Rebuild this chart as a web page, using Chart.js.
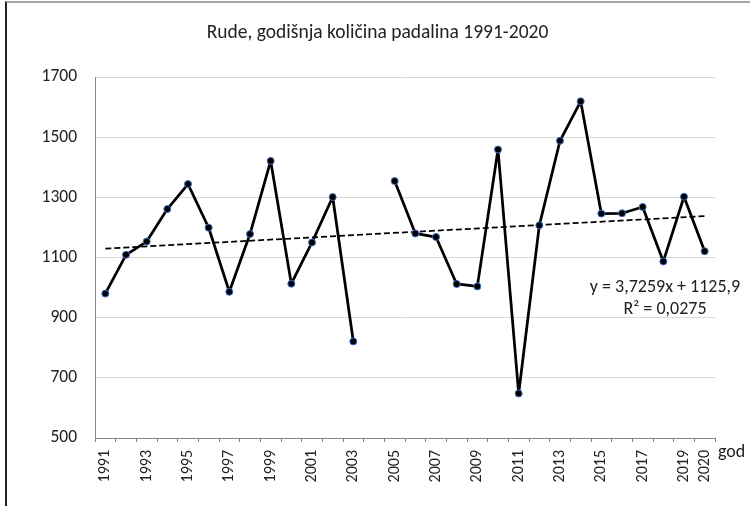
<!DOCTYPE html>
<html>
<head>
<meta charset="utf-8">
<script src="https://cdn.jsdelivr.net/npm/chart.js@4/dist/chart.umd.min.js"></script>
<style>
  html, body { margin: 0; padding: 0; background: #fff; }
  #wrap { position: relative; width: 750px; height: 506px; }
  #frame {
    position: absolute; left: 5px; top: 1px; width: 760px; height: 520px;
    border-left: 2px solid #222; border-top: 2px solid #a6a6a6;
    pointer-events: none;
  }
</style>
</head>
<body>
<div id="wrap">
  <canvas id="chart" width="750" height="506"></canvas>
  <div id="frame"></div>
</div>
<script>
// ---- data ----
const years = [
  '1991', '1992', '1993', '1994', '1995', '1996', '1997', '1998', '1999', '2000',
  '2001', '2002', '2003', '2004', '2005', '2006', '2007', '2008', '2009', '2010',
  '2011', '2012', '2013', '2014', '2015', '2016', '2017', '2018', '2019', '2020'
];
const rainfall = [
  980, 1109, 1153, 1261, 1344, 1199, 986, 1178, 1421, 1013,
  1150, 1301, 821, null, 1354, 1180, 1168, 1012, 1004, 1459,
  648, 1207, 1488, 1619, 1246, 1247, 1268, 1087, 1302, 1121
];
const shownYears = ['1991', '1993', '1995', '1997', '1999', '2001', '2003', '2005', '2007',
  '2009', '2011', '2013', '2015', '2017', '2019', '2020'];
// trend line ends (y = 3,7259x + 1125,9 at x = 1 and x = 30)
const trendStart = 1129.6;
const trendEnd = 1237.7;
const trendLabel = ['y = 3,7259x + 1125,9', 'R\u00b2 = 0,0275'];
const titleText = 'Rude, godišnja količina padalina 1991-2020';
const axisLabel = 'god';

const FONT = 'Carlito, Calibri, Lato, sans-serif';
const trend = years.map((_, i) => i === 0 ? trendStart : (i === years.length - 1 ? trendEnd : null));

// extra text: trend equation + "god" at the end of the x axis
const extraText = {
  id: 'extraText',
  afterDraw(chart) {
    const { ctx, chartArea, scales } = chart;
    ctx.save();
    ctx.fillStyle = '#222';
    ctx.textBaseline = 'middle';
    ctx.font = '18px ' + FONT;
    ctx.textAlign = 'center';
    const ex = chartArea.right - 50;
    const ey = scales.y.getPixelForValue(1000);
    ctx.fillText(trendLabel[0], ex, ey);
    ctx.fillText(trendLabel[1], ex, ey + 22);
    ctx.textAlign = 'left';
    ctx.font = '18px ' + FONT;
    ctx.fillText(axisLabel, chartArea.right + 3, scales.x.top + 14);
    ctx.restore();
  }
};

new Chart(document.getElementById('chart'), {
  type: 'line',
  data: {
    labels: years,
    datasets: [{
      label: 'Padaline',
      data: rainfall,
      borderColor: '#000',
      borderWidth: 2.75,
      borderJoinStyle: 'round',
      pointRadius: 3.5,
      pointBackgroundColor: '#000',
      pointBorderColor: '#3e6cc4',
      pointBorderWidth: 1,
      spanGaps: false,
      tension: 0,
    }, {
      label: 'Trend',
      data: trend,
      borderColor: '#000',
      borderWidth: 1.75,
      borderDash: [6, 3],
      pointRadius: 0,
      spanGaps: true,
    }],
  },
  options: {
    responsive: false,
    animation: false,
    layout: { padding: { left: 40, right: 35, top: 0, bottom: 0 } },
    plugins: {
      legend: { display: false },
      tooltip: { enabled: false },
      title: {
        display: true,
        text: titleText,
        color: '#222',
        font: { family: FONT, size: 19.5, weight: 'normal' },
        padding: { top: 21, bottom: 32.6 },
      },
    },
    scales: {
      x: {
        offset: true,
        afterFit: s => { s.height = 68; },
        grid: { offset: true, drawOnChartArea: false, drawTicks: true, tickLength: 4, color: '#868686' },
        border: { display: true, color: '#868686', width: 1 },
        ticks: {
          autoSkip: false, minRotation: 90, maxRotation: 90, padding: 8,
          color: '#222', font: { family: FONT, size: 16 },
          callback: function (v) {
            const lab = this.getLabelForValue(v);
            return shownYears.includes(lab) ? lab : '';
          },
        },
      },
      y: {
        min: 500, max: 1700,
        afterFit: s => { s.width = 55; },
        grid: { color: '#d9d9d9', drawTicks: false },
        border: { display: true, color: '#868686', width: 1 },
        ticks: {
          stepSize: 200, padding: 18, color: '#222', font: { family: FONT, size: 17.5 },
          callback: v => String(v),
        },
      },
    },
  },
  plugins: [extraText],
});
</script>
</body>
</html>
